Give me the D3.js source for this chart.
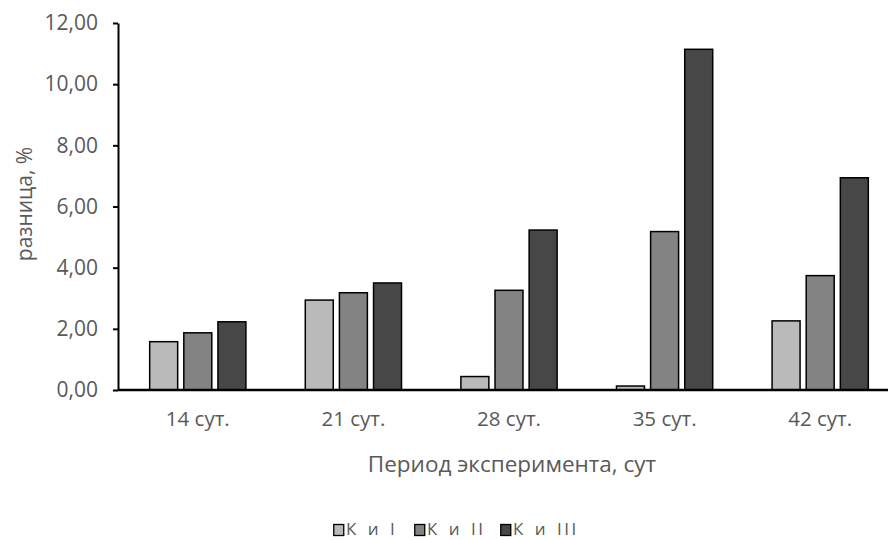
<!DOCTYPE html>
<html>
<head>
<meta charset="utf-8">
<script src="https://cdn.jsdelivr.net/npm/d3@7/dist/d3.min.js"></script>
<style>
  html, body { margin: 0; padding: 0; background: #fff; }
  svg { display: block; }
  svg text { font-family: "Open Sans", "Liberation Sans", sans-serif; }
</style>
</head>
<body>
<svg id="chart" width="888" height="540"></svg>
<script>
// Periods of the experiment (x categories)
const categories = ["14 сут.", "21 сут.", "28 сут.", "35 сут.", "42 сут."];
// Series names
const seriesNames = ["К и I", "К и II", "К и III"];
// Difference, % for each series by period
const seriesKI   = [1.58, 2.94, 0.44, 0.13, 2.26];
const seriesKII  = [1.87, 3.18, 3.26, 5.18, 3.74];
const seriesKIII = [2.23, 3.50, 5.23, 11.14, 6.94];
const yTicks = [0, 2, 4, 6, 8, 10, 12];
const colors = ["#bababa", "#838383", "#474747"];

const series = [seriesKI, seriesKII, seriesKIII];

const svg = d3.select("#chart");
const plotLeft = 118, plotRight = 898, plotTop = 23, plotBottom = 390;

const x = d3.scaleBand().domain(categories).range([plotLeft + 2, plotRight]).paddingInner(0).paddingOuter(0);
const inner = d3.scaleBand().domain(d3.range(series.length))
  .range([0, x.bandwidth()]).paddingInner(0.18).paddingOuter(0.87);
const y = d3.scaleLinear().domain([0, 12]).range([plotBottom, plotTop]);

const fmt = v => d3.format(".2f")(v).replace(".", ",");

// Bars
series.forEach((vals, si) => {
  svg.append("g").selectAll("rect").data(vals).join("rect")
    .attr("x", (d, i) => x(categories[i]) + inner(si))
    .attr("y", d => y(d))
    .attr("width", inner.bandwidth())
    .attr("height", d => y(0) - y(d))
    .attr("fill", colors[si])
    .attr("stroke", "#000")
    .attr("stroke-width", 1.5);
});

// Y axis
const yAxis = svg.append("g").attr("transform", `translate(${plotLeft},0)`)
  .call(d3.axisLeft(y).tickValues(yTicks).tickFormat(fmt).tickSize(5).tickSizeOuter(0))
  .attr("font-family", null).attr("font-size", null);
yAxis.select(".domain").attr("stroke", "#000").attr("stroke-width", 2);
yAxis.selectAll(".tick line").attr("stroke", "#000").attr("stroke-width", 2);
yAxis.selectAll(".tick text").attr("x", -20).attr("fill", "#595959")
  .style("font-size", "21px");

// X axis baseline and labels
const xAxis = svg.append("g").attr("transform", `translate(0,${plotBottom})`)
  .call(d3.axisBottom(x).tickSize(0).tickPadding(21))
  .attr("font-family", null).attr("font-size", null);
xAxis.select(".domain").attr("stroke", "#000").attr("stroke-width", 2.5)
  .attr("d", `M${plotLeft},0H888`);
xAxis.selectAll(".tick text").attr("fill", "#595959").style("font-size", "20.5px");

// Axis titles
svg.append("text").attr("x", 512).attr("y", 472).attr("text-anchor", "middle")
  .attr("fill", "#595959").style("font-size", "22.5px").text("Период эксперимента, сут");
svg.append("text").attr("transform", "translate(32,204) rotate(-90)").attr("text-anchor", "middle")
  .attr("fill", "#595959").style("font-size", "21px").text("разница, %");

// Legend
const legendX = [333, 414, 500];
const lg = svg.append("g");
seriesNames.forEach((name, i) => {
  lg.append("rect").attr("x", legendX[i] + 0.75).attr("y", 524.5).attr("width", 10).attr("height", 11)
    .attr("fill", colors[i]).attr("stroke", "#000").attr("stroke-width", 1.3);
  lg.append("text").attr("x", legendX[i] + 13).attr("y", 535)
    .attr("fill", "#595959").style("font-size", "17px")
    .style("letter-spacing", "2.5px").style("word-spacing", "2px")
    .text(name);
});
</script>
</body>
</html>
